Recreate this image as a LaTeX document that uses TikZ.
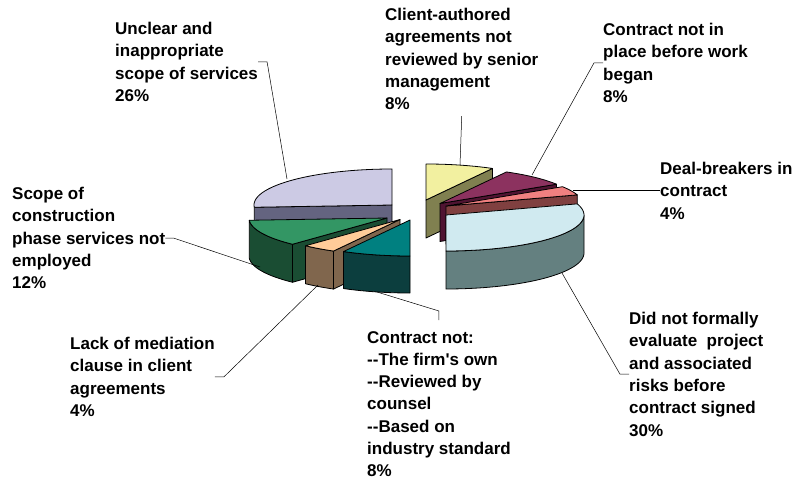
\documentclass[tikz,border=0pt]{standalone}
\usepackage{fontspec}
\setmainfont{Liberation Sans}[Ligatures=TeXOff]
\usetikzlibrary{calc}

\definecolor{lavtop}{RGB}{204,202,228}
\definecolor{lavside}{RGB}{100,100,128}
\definecolor{grntop}{RGB}{51,150,100}
\definecolor{grnside}{RGB}{26,77,51}
\definecolor{pchtop}{RGB}{255,204,153}
\definecolor{pchside}{RGB}{128,102,77}
\definecolor{tealtop}{RGB}{0,128,128}
\definecolor{tealside}{RGB}{12,62,62}
\definecolor{yeltop}{RGB}{242,240,160}
\definecolor{yelside}{RGB}{128,128,80}
\definecolor{martop}{RGB}{140,50,95}
\definecolor{marside}{RGB}{80,20,50}
\definecolor{pnktop}{RGB}{240,128,128}
\definecolor{pnkside}{RGB}{128,64,64}
\definecolor{cyntop}{RGB}{208,234,240}
\definecolor{cynside}{RGB}{100,128,128}

\begin{document}
\begin{tikzpicture}[x=1pt,y=-1pt,
    face/.style={draw=black,line width=0.8pt,line join=round},
    lbl/.style={anchor=north west,inner sep=0pt,align=left,
      font=\fontsize{17}{22.3}\selectfont\bfseries},
    leader/.style={draw=black,line width=0.5pt}]
    \useasboundingbox (0,0) rectangle (797,481);
    % right group
    \filldraw[face,fill=yelside] (426,200) -- (492.45,168.46) -- (492.45,206.46) -- (426,238) -- cycle;
    \filldraw[face,fill=yeltop] (426,200) -- plot[domain=0:28.8,samples=30] ({426+138*sin(\x)},{200-36*cos(\x)}) -- cycle;
    \filldraw[face,fill=marside] (440,203.5) -- (556.5,184.2) -- (556.5,222.2) -- (440,241.5) -- cycle;
    \filldraw[face,fill=martop] (440,203.5) -- plot[domain=28.8:57.6,samples=30] ({440+138*sin(\x)},{203.5-36*cos(\x)}) -- cycle;
    \filldraw[face,fill=pnkside] (446,206) -- (577.25,194.88) -- (577.25,232.88) -- (446,244) -- cycle;
    \filldraw[face,fill=pnktop] (446,206) -- plot[domain=57.6:72,samples=20] ({446+138*sin(\x)},{206-36*cos(\x)}) -- cycle;
    \filldraw[face,fill=cynside] plot[domain=90:180,samples=40] ({446+138*sin(\x)},{215-36*cos(\x)})
      -- plot[domain=180:90,samples=40] ({446+138*sin(\x)},{253-36*cos(\x)}) -- cycle;
    \filldraw[face,fill=cyntop] (446,215) -- plot[domain=72:180,samples=50] ({446+138*sin(\x)},{215-36*cos(\x)}) -- cycle;
    % left group
    \filldraw[face,fill=lavside] (392,205) -- (254.27,207.26) -- (254.27,245.26) -- (392,243) -- cycle;
    \filldraw[face,fill=lavtop] (392,205) -- plot[domain=266.4:360,samples=50] ({392+138*sin(\x)},{205-36*cos(\x)}) -- cycle;
    \filldraw[face,fill=grnside] (387,218) -- (292.54,244.24) -- (292.54,282.24) -- (387,256) -- cycle;
    \filldraw[face,fill=grnside] plot[domain=223.2:266.4,samples=30] ({387+138*sin(\x)},{218-36*cos(\x)})
      -- plot[domain=266.4:223.2,samples=30] ({387+138*sin(\x)},{256-36*cos(\x)}) -- cycle;
    \filldraw[face,fill=grntop] (387,218) -- plot[domain=223.2:266.4,samples=30] ({387+138*sin(\x)},{218-36*cos(\x)}) -- cycle;
    \filldraw[face,fill=pchside] (400,219.5) -- (333.51,251.05) -- (333.51,289.05) -- (400,257.5) -- cycle;
    \filldraw[face,fill=pchside] plot[domain=208.8:223.2,samples=20] ({400+138*sin(\x)},{219.5-36*cos(\x)})
      -- plot[domain=223.2:208.8,samples=20] ({400+138*sin(\x)},{257.5-36*cos(\x)}) -- cycle;
    \filldraw[face,fill=pchtop] (400,219.5) -- plot[domain=208.8:223.2,samples=20] ({400+138*sin(\x)},{219.5-36*cos(\x)}) -- cycle;
    \filldraw[face,fill=tealside] plot[domain=180:208.8,samples=30] ({410+138*sin(\x)},{220-36*cos(\x)})
      -- plot[domain=208.8:180,samples=30] ({410+138*sin(\x)},{257-36*cos(\x)}) -- cycle;
    \filldraw[face,fill=tealtop] (410,220) -- plot[domain=180:208.8,samples=30] ({410+138*sin(\x)},{220-36*cos(\x)}) -- cycle;
    % leader ends on the slices
    \coordinate (p-unclear) at (287,179);
    \coordinate (p-client) at (460,165);
    \coordinate (p-place) at (532,175);
    \coordinate (p-deal) at (573,188);
    \coordinate (p-eval) at (562,273);
    \coordinate (p-cnot) at (377,292);
    \coordinate (p-mediation) at (318,285);
    \coordinate (p-scope) at (260,267);
    % labels
    \node[lbl] (unclear) at (115,22) {Unclear and\\inappropriate\\scope of services\\26\%};
    \node[lbl] (client) at (385,8) {Client-authored\\agreements not\\reviewed by senior\\management\\8\%};
    \node[lbl] (place) at (603,23) {Contract not in\\place before work\\began\\8\%};
    \node[lbl] (deal) at (660,162) {Deal-breakers in\\contract\\4\%};
    \node[lbl] (scope) at (12,187) {Scope of\\construction\\phase services not\\employed\\12\%};
    \node[lbl] (mediation) at (70,337) {Lack of mediation\\clause in client\\agreements\\4\%};
    \node[lbl] (cnot) at (367,331) {Contract not:\\--The firm's own\\--Reviewed by\\counsel\\--Based on\\industry standard\\8\%};
    \node[lbl] (eval) at (629,312) {Did not formally\\evaluate\ \ project\\and associated\\risks before\\contract signed\\30\%};
    % leaders
    \draw[leader] (unclear.east) -- ++(9,0) -- (p-unclear);
    \draw[leader] ([yshift=-6pt]client.south) -- (p-client);
    \draw[leader] (place.west) -- ++(-9,0) -- (p-place);
    \draw[leader] (deal.west) -- (deal.west -| p-deal);
    \draw[leader] (scope.east) -- ++(8,0) -- (p-scope);
    \draw[leader] (mediation.east) -- ++(9,0) -- (p-mediation);
    \draw[leader] ([yshift=11pt]cnot.north) -- ++(0,-9) -- (p-cnot);
    \draw[leader] (eval.west) -- ++(-9,0) -- (p-eval);
\end{tikzpicture}
\end{document}
